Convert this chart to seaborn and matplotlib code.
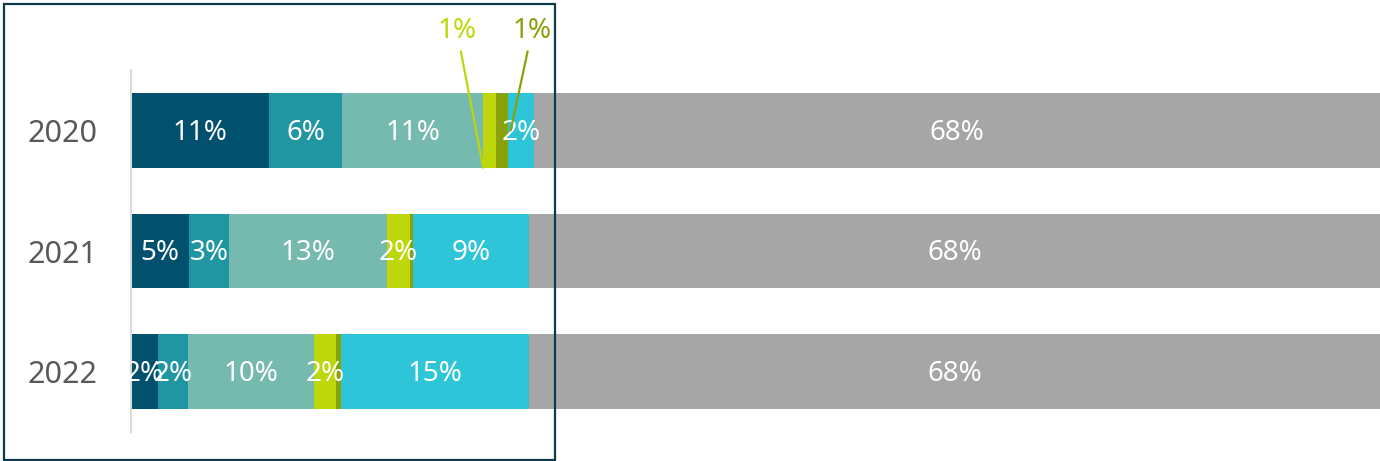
import matplotlib
matplotlib.use("Agg")
import pandas as pd
import seaborn as sns
import matplotlib.pyplot as plt
from matplotlib.patches import Rectangle

years = ["2020", "2021", "2022"]
series = ["seg1", "seg2", "seg3", "seg4", "seg5", "seg6", "seg7"]
seg1 = [11.05, 4.65, 2.15]
seg2 = [5.85, 3.2, 2.4]
seg3 = [11.3, 12.65, 10.1]
seg4 = [1.05, 1.85, 1.75]
seg5 = [0.95, 0.25, 0.4]
seg6 = [2.1, 9.3, 15.05]
seg7 = [67.7, 68.1, 68.15]
colors = ["#00506E", "#2196A3", "#76B9AE", "#BDD70A", "#8AA20A", "#2EC5D8", "#A6A6A6"]

rows = []
for name, vals in zip(series, [seg1, seg2, seg3, seg4, seg5, seg6, seg7]):
    for y, v in zip(years, vals):
        rows.append({"year": y, "series": name, "value": v})
df = pd.DataFrame(rows)
df["end"] = df.groupby("year")["value"].cumsum()
df["start"] = df["end"] - df["value"]

sns.set_style("white")
plt.rcParams["font.family"] = ["Noto Sans", "DejaVu Sans"]

fig = plt.figure(figsize=(13.8, 4.61), dpi=100)
ax = fig.add_axes([131 / 1380, 29 / 461, 1249 / 1380, 362 / 461])

# draw cumulative bars from the last series backwards so they stack
for name, c in reversed(list(zip(series, colors))):
    sub = df[df["series"] == name]
    sns.barplot(data=sub, x="end", y="year", order=years, color=c,
                saturation=1, width=0.62, orient="h", linewidth=0, ax=ax)

# labels
outside = []
for _, r in df.iterrows():
    i = years.index(r["year"])
    if r["value"] >= 1.5:
        ax.text(r["start"] + r["value"] / 2, i + 0.02, f"{r['value']:.0f}%",
                ha="center", va="center", color="white", fontsize=20)
    elif r["value"] >= 0.5:
        outside.append(r)

# small segments get callouts above the bar
offsets = [(-2.1, 0.31, 0.0), (1.7, 0.0, 0.2)]
for r, (dx, tip_y, tip_dx) in zip(outside, offsets):
    c = colors[series.index(r["series"])]
    if dx < 0:
        tip_x = r["start"]
    else:
        tip_x = r["end"] + tip_dx
    ax.annotate(f"{r['value']:.0f}%", xy=(tip_x, tip_y),
                xytext=(tip_x + dx, -0.82), ha="center", va="center",
                color=c, fontsize=20, annotation_clip=False,
                arrowprops=dict(arrowstyle="-", color=c, lw=1.6,
                                shrinkA=2, shrinkB=0))

ax.set_xlim(0, 100)
ax.set_ylim(2.5, -0.5)
ax.set_xlabel("")
ax.set_ylabel("")
ax.set_xticks([])
ax.tick_params(axis="y", length=0, pad=24, labelsize=22, labelcolor="#595959")
for s in ["top", "right", "bottom"]:
    ax.spines[s].set_visible(False)
ax.spines["left"].set_color("#D9D9D9")
ax.spines["left"].set_linewidth(1.5)

fig.patches.append(Rectangle((4 / 1380, 1.5 / 461), 551 / 1380, 455 / 461,
                             transform=fig.transFigure, fill=False,
                             edgecolor="#0E3A4C", linewidth=1.6))

fig.savefig("out.png", dpi=100)
